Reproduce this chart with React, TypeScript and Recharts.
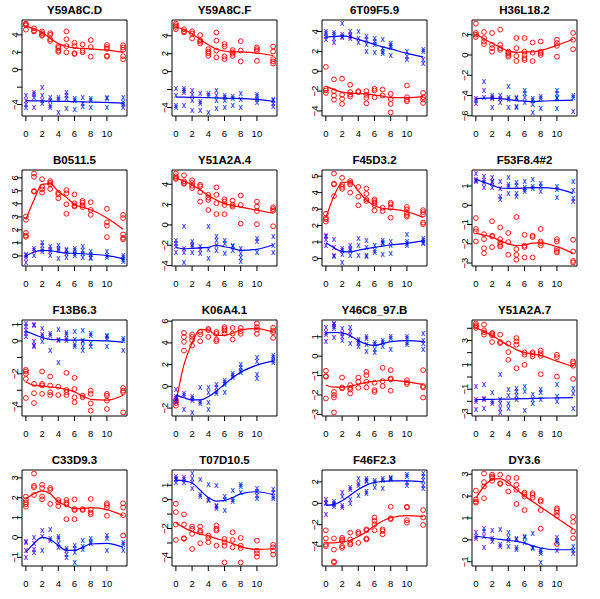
import { ComposedChart, Scatter, Line, XAxis, YAxis, ReferenceArea } from "recharts";

// time points (hours) shared by every panel
const times = [0, 1, 2, 3, 4, 5, 6, 7, 8, 10, 12];
const xTicks = [0, 2, 4, 6, 8, 10];

const titles = [
  "Y59A8C.D", "Y59A8C.F", "6T09F5.9", "H36L18.2",
  "B0511.5", "Y51A2A.4", "F45D3.2", "F53F8.4#2",
  "F13B6.3", "K06A4.1", "Y46C8_97.B", "Y51A2A.7",
  "C33D9.3", "T07D10.5", "F46F2.3", "DY3.6",
];

// y ticks per panel, and the ticks R left without a label
const yTicks = [
  [-4, -2, 0, 2, 4], [-4, -2, 0, 2, 4], [-4, -2, 0, 2, 4], [-6, -4, -2, 0, 2],
  [0, 1, 2, 3, 4, 5, 6], [-4, -2, 0, 2, 4], [0, 1, 2, 3, 4, 5], [-3, -2, -1, 0, 1],
  [-4, -3, -2, -1, 0, 1], [-2, 0, 2, 4, 6], [-3, -2, -1, 0, 1], [-3, -2, -1, 0, 1, 2, 3, 4],
  [-1, 0, 1, 2, 3], [-4, -3, -2, -1, 0, 1], [-4, -2, 0, 2], [-1, 0, 1, 2, 3],
];
const yUnlabeled = [
  [-2], [-2], [], [],
  [], [], [], [],
  [-3, -1], [], [], [-2, 0, 2, 4],
  [], [-3, -1], [], [],
];

// replicate values at each time point: red circles / blue crosses, plus fitted curves
const red1 = [[5.3, 5.2, 5.1, 4.6], [4.75, 4.5, 4.4], [4.4, 4.2, 4.0, 3.9], [4.2, 4.0, 3.5, 3.3], [2.7, 2.5, 2.2, 2.05], [4.4, 3.5, 2.7, 2.0], [3.1, 2.7, 1.9, 1.8], [2.9, 2.2, 2.0], [3.4, 2.6, 1.5], [2.85, 2.6, 2.4, 1.6, 1.5], [2.8, 2.55, 2.3, 1.55, 1.2]];
const blue1 = [[-2.97, -3.55, -4.05, -4.4], [-2.65, -2.9, -3.17, -4.4], [-2.1, -3.0, -3.55, -3.95], [-3.17, -3.55, -4.1, -4.4], [-3.25, -3.45, -4.9], [-2.6, -3.0, -3.35, -4.5], [-3.3, -3.5, -4.55], [-3.17, -3.95, -4.25], [-3.3, -3.55, -4.3], [-3.17, -3.35, -4.4], [-3.25, -3.8, -4.0, -4.4]];
const redFit1 = [5.0, 4.7, 4.3, 3.6, 3.0, 2.7, 2.5, 2.45, 2.4, 2.25, 2.0];
const blueFit1 = [-3.55, -3.57, -3.58, -3.6, -3.62, -3.64, -3.66, -3.68, -3.7, -3.75, -3.85];

const red2 = [[5.36, 5.17, 5.0, 4.73], [4.73, 4.5, 4.37], [4.5, 4.25, 3.7], [4.07, 3.5, 3.34, 3.15], [2.5, 2.24, 2.05, 1.76], [4.37, 3.45, 2.35, 1.6], [3.08, 2.8, 1.7, 1.4], [2.4, 2.15, 2.0, 1.76], [3.4, 2.35, 1.14], [2.7, 2.5, 2.3, 1.2], [2.8, 2.24, 1.4, 1.14, 0.9]];
const blue2 = [[-1.9, -2.7, -3.8, -4.07], [-1.9, -2.1, -2.35, -3.8], [-2.17, -2.53, -3.27, -4.3], [-2.42, -3.38, -3.56, -4.37], [-2.46, -2.64, -4.55], [-2.17, -2.7, -3.2, -4.1], [-2.7, -2.9, -3.27, -4.07], [-2.83, -2.97, -3.8], [-2.46, -3.08, -4.0], [-2.53, -2.83, -3.08, -3.45], [-3.08, -3.27, -3.56, -3.89]];
const redFit2 = [5.0, 4.7, 4.2, 3.6, 3.0, 2.5, 2.3, 2.2, 2.2, 2.05, 1.8];
const blueFit2 = [-2.83, -2.85, -2.87, -2.88, -2.9, -2.93, -2.96, -2.98, -3.0, -3.1, -3.3];

const red3 = [[0.44, -1.77, -1.94, -2.18], [-0.82, -2.0, -2.45, -2.86], [-0.75, -2.38, -2.79, -3.3], [-1.36, -2.1, -2.35, -2.55], [-2.0, -2.1], [-2.0, -2.38, -2.69, -3.23], [-1.77, -1.94, -2.62], [-1.84, -2.45], [-2.28, -2.79, -3.3, -4.15], [-1.43, -2.62, -2.86, -3.03], [-2.18, -2.62, -2.86, -3.2]];
const blue3 = [[4.0, 3.74, 3.44, 3.16], [3.84, 3.67, 3.23, 2.9], [4.8, 3.67, 3.5, 3.33], [4.0, 3.67, 3.44, 3.23], [3.95, 3.23, 2.9], [3.44, 3.16, 2.65, 1.97], [3.23, 3.0, 2.65, 1.87], [3.16, 2.3, 1.97, 1.73], [2.82, 2.58, 2.38, 1.53], [1.97, 1.46, 1.19], [2.14, 1.97, 1.19, 0.78]];
const redFit3 = [-1.5, -1.85, -2.1, -2.2, -2.25, -2.3, -2.4, -2.5, -2.65, -2.65, -2.55];
const blueFit3 = [3.44, 3.5, 3.55, 3.45, 3.2, 2.95, 2.7, 2.45, 2.25, 1.8, 1.45];

const red4 = [[3.1, 2.17, 2.0, 1.77], [2.27, 1.67, 1.33, 1.07], [2.17, 1.0, 0.67, 0.33], [2.5, 1.0, 0.67, 0.5], [0.33, 0.17, 0.0, -0.17], [1.67, 0.67, -0.1, -0.6], [1.67, 0.33, 0.0, -0.33, -0.5], [1.23, 0.23, -0.6], [1.33, 0.33, 0.17, 0.0], [1.5, 1.17, 0.9, -0.17], [2.17, 1.5, 0.57]];
const blue4 = [[-4.33, -4.5, -4.83], [-2.67, -3.5, -4.23], [-4.0, -4.17, -4.33, -5.23], [-4.0, -4.33, -4.73], [-3.1, -4.17, -4.43, -5.23], [-4.17, -4.33, -5.1, -5.23], [-3.57, -3.83, -4.17, -4.67], [-4.27, -4.5, -4.93, -5.67], [-4.1, -4.33, -5.33], [-3.5, -3.83, -4.17, -4.33, -5.33], [-4.0, -4.23, -5.57]];
const redFit4 = [2.1, 1.6, 1.15, 0.75, 0.4, 0.25, 0.3, 0.3, 0.45, 0.95, 1.55];
const blueFit4 = [-4.3, -4.25, -4.25, -4.3, -4.4, -4.5, -4.55, -4.6, -4.55, -4.5, -4.45];

const red5 = [[3.04, 2.78, 1.77, 1.57, 1.47], [6.33, 6.08, 4.99, 4.94], [5.9, 5.32, 5.11, 4.86], [5.75, 5.62, 5.49, 5.14], [4.86, 4.73, 4.43], [5.06, 4.81, 3.97, 3.24], [4.73, 4.05, 3.87, 3.8], [4.23, 4.1, 3.87, 3.75], [4.13, 3.54, 3.16], [3.62, 2.58, 2.33, 1.44], [3.16, 2.91, 1.65, 1.39, 1.27]];
const blue5 = [[0.13, 0.0, -0.13, -0.5], [0.56, 0.38, 0.05], [1.0, 0.76, 0.5, 0.33], [0.68, 0.5, 0.3, 0.0], [0.8, 0.56, 0.38, -0.25], [0.5, 0.38, 0.2, -0.13], [0.56, 0.38, 0.18, 0.05], [0.7, 0.38, 0.18, -0.13], [0.3, 0.13, -0.13, -0.25], [0.3, 0.05, -0.13], [0.05, -0.13, -0.3, -0.43]];
const redFit5 = [2.8, 4.3, 5.5, 5.55, 4.95, 4.5, 3.95, 3.75, 3.55, 2.92, 2.05];
const blueFit5 = [0.0, 0.3, 0.42, 0.4, 0.3, 0.22, 0.2, 0.17, 0.13, 0.03, -0.2];

const red6 = [[5.05, 4.78, 4.62, 4.52], [4.88, 4.29, 4.12, 4.05], [4.39, 4.12, 3.85, 3.62], [3.95, 3.79, 3.22, 2.29], [2.96, 2.69, 2.46, 1.46], [3.69, 2.96, 2.13, 1.06], [2.52, 2.29, 1.96, 1.06], [2.39, 1.96, 1.79], [2.89, 1.96, 0.13], [2.29, 1.79, 1.36, 0.07], [1.73, 1.56, 1.4, -0.13]];
const blue6 = [[-1.53, -1.86, -2.19, -2.69], [-0.2, -2.36, -2.69, -3.69], [-1.69, -1.96, -2.19, -2.76], [-2.19, -2.46, -2.86], [-0.13, -2.46, -3.36], [-1.13, -1.53, -2.03, -2.52], [-1.59, -1.86, -2.86], [-2.03, -2.19, -2.52], [-2.36, -2.86, -3.26, -3.59], [-1.36, -1.69, -2.69], [-1.13, -2.03, -2.69]];
const redFit6 = [4.6, 4.3, 3.95, 3.45, 2.9, 2.45, 2.1, 1.9, 1.75, 1.45, 1.15];
const blueFit6 = [-2.2, -2.35, -2.3, -2.25, -2.2, -2.0, -2.15, -2.3, -2.5, -2.4, -1.95];

const red7 = [[2.72, 2.48, 2.38, 2.24], [5.16, 4.54, 4.5, 3.79], [4.9, 4.5, 4.35, 4.23], [4.7, 4.6, 4.5, 4.0], [4.35, 3.75, 3.23], [4.25, 3.93, 3.59, 3.49], [3.59, 3.49, 3.39, 3.23, 2.92], [3.08, 2.88], [3.39, 3.29, 3.08, 2.48], [3.13, 2.98, 2.78, 2.64, 2.54], [2.94, 2.82, 2.68, 2.18, 2.08]];
const blue7 = [[1.41, 1.33, 1.17, 0.77], [1.13, 0.67, 0.2, 0.12], [0.6, 0.46, 0.26, -0.24], [0.77, 0.6, 0.46, 0.2], [1.21, 0.77, 0.16], [1.07, 0.67, 0.2, 0.1], [0.77, 0.46, 0.36], [1.07, 0.97, 0.87, 0.26], [1.0, 0.77, 0.32], [1.47, 1.0, 0.9, 0.8], [1.21, 1.07, 0.97, 0.87]];
const redFit7 = [2.48, 3.8, 4.6, 4.65, 4.1, 3.55, 3.2, 3.05, 3.0, 2.85, 2.5];
const blueFit7 = [0.95, 0.65, 0.42, 0.4, 0.5, 0.6, 0.68, 0.75, 0.82, 0.92, 1.07];

const red8 = [[-0.66, -1.23, -1.36, -1.88], [-1.5, -1.76, -2.23, -2.49], [-0.83, -1.58, -1.62, -2.17], [-1.15, -1.76, -1.93, -2.05, -2.14], [-1.44, -1.91, -2.57], [-0.61, -2.28, -2.57, -2.83], [-1.53, -2.1, -2.17, -2.71], [-1.58, -1.65, -2.71], [-1.23, -1.88, -1.97, -2.09], [-1.76, -1.88, -2.26, -2.37, -2.45], [-1.79, -2.4, -2.89, -2.97]];
const blue8 = [[1.65, 1.34, 1.3, 1.25], [1.51, 1.3, 1.17, 0.9], [1.43, 1.25, 1.17, 0.9], [1.25, 0.85, 0.47, 0.3], [1.43, 1.08, 0.99, 0.6], [1.17, 1.03, 0.6, 0.43], [1.25, 0.9, 0.82, 0.73], [1.34, 0.99, 0.85], [1.11, 0.99, 0.73], [0.99, 0.82, 0.38], [1.25, 0.78, 0.33, 0.21]];
const redFit8 = [-1.45, -1.55, -1.65, -1.85, -2.0, -2.1, -2.05, -1.97, -1.95, -2.15, -2.5];
const blueFit8 = [1.35, 1.2, 1.05, 0.9, 0.88, 0.88, 0.9, 0.92, 0.92, 0.85, 0.62];

const red9 = [[-1.76, -1.86, -2.0, -2.31, -3.47], [-2.61, -3.18, -3.78], [-1.86, -2.61, -2.71, -3.22], [-2.16, -2.71, -3.12, -3.29], [-2.78, -3.29], [-1.94, -2.98, -3.12, -3.29], [-2.24, -2.92, -3.43, -3.73], [-3.33, -3.43], [-3.02, -3.22, -3.8, -4.24], [-3.22, -3.33, -3.63, -4.14], [-2.86, -3.02, -3.12, -4.35]];
const blue9 = [[1.06, 0.86, 0.65, 0.45, 0.29], [1.0, 0.9, -0.06, -0.27, -0.37], [0.76, 0.39, 0.24, -0.06], [0.45, 0.35, -0.61], [0.69, 0.08, 0.0, -1.35], [0.51, 0.41, 0.14, 0.04], [0.55, 0.08, -0.2, -0.37], [0.65, 0.04, -0.06, -0.37, -0.57], [0.45, 0.35, -0.16, -0.37], [0.35, 0.24, 0.14, -0.33], [0.14, 0.04, -0.57]];
const redFit9 = [-2.5, -2.7, -2.75, -2.8, -2.85, -2.95, -3.1, -3.35, -3.55, -3.6, -3.3];
const blueFit9 = [0.6, 0.4, 0.2, 0.1, 0.07, 0.06, 0.05, 0.05, 0.03, 0.0, -0.08];

const red10 = [[-1.23, -1.38, -1.54, -1.78], [4.92, 4.55, 4.09, 3.29], [4.77, 4.55, 4.25, 3.75], [5.0, 4.77, 4.15], [5.29, 5.17, 4.55], [5.0, 4.83, 4.31, 4.15], [5.45, 5.29, 5.14, 4.86], [5.38, 4.86, 4.31], [5.38, 5.08, 4.83], [5.78, 5.45, 5.23, 4.83], [5.38, 5.14, 4.98, 4.46]];
const blue10 = [[-0.31, -0.98, -1.17, -1.38], [-0.71, -0.86, -2.15], [-0.92, -1.17, -1.32, -2.4], [-0.09, -1.38, -1.6], [-0.15, -0.62, -1.48, -2.15], [0.15, -0.15, -0.46, -0.71], [0.55, 0.37, 0.15, -0.62], [1.17, 0.98, 0.77], [2.0, 1.69, 1.45, 1.23], [2.62, 2.31, 1.08, 0.68], [2.83, 2.62, 2.37, 2.22]];
const redFit10 = [-1.5, 2.0, 4.0, 5.25, 5.2, 4.7, 4.7, 4.9, 5.2, 5.32, 5.0];
const blueFit10 = [-0.8, -1.05, -1.25, -1.25, -0.95, -0.45, 0.2, 0.8, 1.3, 1.95, 2.35];

const red11 = [[-0.75, -1.03, -1.06, -2.18], [-1.84, -2.0, -2.13, -2.9], [-1.1, -1.61, -1.66], [-1.49, -1.63, -1.72, -1.92], [-1.1, -1.32, -1.63], [-0.81, -0.98, -1.32, -1.61], [-1.37, -1.75, -1.84], [-0.6, -1.29, -1.54], [-0.72, -1.15, -1.2, -1.78], [-1.24, -1.36, -1.44], [-0.72, -1.54, -1.61, -2.13]];
const blue11 = [[1.48, 1.2, 1.11, 0.74], [1.68, 1.6, 1.51, 1.42, 0.96], [1.42, 1.17, 1.0, 0.82], [1.48, 1.25, 1.03, 0.62], [0.86, 0.74, 0.65, 0.51], [1.0, 0.91, 0.57, 0.22], [0.69, 0.57, 0.34, 0.17], [0.82, 0.69, 0.48], [1.0, 0.91, 0.31], [1.0, 0.91, 0.7, 0.57], [1.17, 0.82, 0.65, 0.34]];
const redFit11 = [-1.5, -1.6, -1.6, -1.55, -1.45, -1.35, -1.3, -1.25, -1.25, -1.32, -1.45];
const blueFit11 = [1.2, 1.22, 1.2, 1.05, 0.8, 0.62, 0.55, 0.65, 0.75, 0.8, 0.75];

const red12 = [[4.39, 4.25, 4.17, 4.03], [4.31, 3.84, 3.67, 3.48], [3.62, 3.53, 3.42, 2.87], [3.48, 2.87, 2.79], [2.74, 2.05, 1.41], [3.2, 2.93, 2.65, 0.72], [2.02, 1.83, 1.0], [2.02, 1.88, 1.69], [2.18, 1.96, 1.74, 0.23], [1.83, 1.63, 0.04], [1.28, 1.14, 0.92, -0.16]];
const blue12 = [[-0.79, -1.84, -2.03, -2.72], [-0.65, -1.75, -1.89, -2.64], [-1.26, -2.03, -2.22], [0.17, -1.89, -2.17, -2.58, -2.91], [-1.01, -1.56, -2.17, -2.58], [-0.93, -1.2, -1.56, -1.89], [-0.79, -1.2, -2.8], [-1.48, -1.84, -2.22], [-1.07, -1.29, -1.89], [-0.65, -1.62, -2.03], [-0.93, -1.34, -2.58]];
const redFit12 = [4.05, 3.75, 3.4, 3.0, 2.6, 2.25, 2.0, 1.9, 1.75, 1.3, 0.85];
const blueFit12 = [-1.85, -1.84, -1.83, -1.82, -1.81, -1.8, -1.78, -1.76, -1.74, -1.72, -1.7];

const red13 = [[2.06, 1.89, 1.77, 1.67, 1.55], [3.22, 2.6, 2.52, 2.14], [2.66, 2.49, 2.06, 1.92], [2.49, 2.4, 1.69], [1.89, 1.77, 1.58], [1.89, 1.75, 1.67, 0.92], [1.92, 1.43, 1.38, 0.92], [1.43, 1.38], [1.94, 1.41, 1.26, 1.16], [1.72, 1.63, 1.51, 1.09], [1.72, 1.51, 1.12, 0.1]];
const blue13 = [[-0.19, -0.29, -0.66, -1.0], [-0.02, -0.32, -0.61, -0.75], [0.32, 0.05, -0.66], [0.41, -0.07, -0.15], [0.05, -0.07, -0.32, -0.54], [-0.58, -0.66, -0.89, -1.04], [-0.41, -0.58, -0.75, -1.26], [-0.15, -0.49, -0.63], [-0.07, -0.19, -0.32], [0.1, -0.07, -0.66], [-0.24, -0.36, -0.66]];
const redFit13 = [1.95, 2.2, 2.35, 2.2, 1.8, 1.6, 1.45, 1.45, 1.5, 1.4, 1.1];
const blueFit13 = [-0.75, -0.3, 0.0, -0.1, -0.4, -0.65, -0.65, -0.5, -0.33, -0.3, -0.5];

const red14 = [[-0.28, -0.86, -1.72, -2.79], [-1.02, -1.72, -2.67, -2.72], [-1.86, -2.02, -2.37, -3.42], [-1.86, -2.14, -2.26, -3.02], [-2.49, -2.65, -2.95], [-1.79, -2.02, -2.14, -3.19], [-2.72, -2.95, -3.19, -4.35], [-2.26, -2.79, -3.3], [-2.65, -3.19, -3.35, -4.35], [-2.84, -3.53, -3.72, -3.95], [-3.12, -3.3, -3.53, -3.81]];
const blue14 = [[1.58, 1.47, 1.35, 1.19], [1.53, 1.35, 1.19], [1.81, 1.47, 1.19, 0.77], [1.4, 0.37, 0.19], [1.05, 0.0, -0.09], [1.0, -0.4, -0.51, -0.63], [0.19, 0.0, -0.74], [0.65, 0.0, -0.16], [1.07, 0.88, 0.47], [0.77, 0.53, 0.3, 0.07], [0.7, 0.47, 0.19, 0.07]];
const redFit14 = [-1.6, -1.95, -2.2, -2.4, -2.5, -2.7, -2.85, -3.05, -3.25, -3.45, -3.4];
const blueFit14 = [1.35, 1.3, 1.15, 0.65, 0.15, -0.1, -0.05, 0.15, 0.4, 0.55, 0.35];

const red15 = [[-2.52, -3.28, -3.85, -4.0], [-3.28, -4.32, -5.43, -5.52], [-3.22, -3.38, -3.53, -4.0, -4.16], [-2.74, -3.38, -3.69, -3.85], [-2.68, -2.84, -3.69], [-2.43, -2.52, -3.28, -3.38], [-1.32, -1.64, -1.96, -2.52], [-2.43, -2.59, -2.9], [-0.32, -1.39, -1.48], [-0.32, -0.38, -1.58, -1.8], [-0.63, -1.32, -2.02]];
const blue15 = [[0.32, 0.1, -0.06, -1.1], [0.19, 0.0, -0.13, -0.28], [0.95, 0.63, -0.22, -0.44], [1.45, 1.29, 0.32, -0.06], [2.3, 1.83, 1.67, 0.73], [2.3, 2.15, 1.99, 1.04, 0.88], [2.15, 1.89, 1.42], [2.3, 2.15, 1.36], [2.4, 2.3, 2.21], [2.68, 2.46, 1.89, 1.67], [2.78, 2.46, 2.15, 1.67, 1.36]];
const redFit15 = [-3.7, -3.7, -3.6, -3.45, -3.1, -2.65, -2.1, -1.65, -1.35, -1.15, -1.25];
const blueFit15 = [-0.2, -0.1, 0.25, 0.75, 1.3, 1.7, 1.95, 2.05, 2.1, 2.1, 2.0];

const red16 = [[2.25, 1.85, 1.75, 1.7], [3.03, 2.64, 2.44, 1.9], [2.98, 2.9, 2.83, 2.7], [2.98, 2.59, 2.55], [2.83, 2.59, 2.21], [2.83, 2.52, 2.29, 1.64], [2.16, 2.08, 1.98, 1.36], [2.13, 2.05, 1.93], [1.82, 1.75, 1.36, 0.51], [1.44, 1.36, 1.24, 1.1, -0.19], [1.05, 0.82, 0.39, 0.08]];
const blue16 = [[0.31, 0.15, 0.05], [0.51, 0.36, 0.15, -0.34], [0.43, 0.05, -0.06], [0.46, -0.22, -0.31], [0.31, 0.12, -0.03, -0.31], [0.05, 0.0, -0.34, -0.46], [0.15, 0.09, -0.11], [0.28, -0.34, -0.42], [-0.46, -0.54, -0.65, -1.03], [0.09, -0.03, -0.15, -0.49], [-0.31, -0.49, -0.65]];
const redFit16 = [1.9, 2.45, 2.75, 2.8, 2.6, 2.3, 2.0, 1.75, 1.5, 1.0, 0.5];
const blueFit16 = [0.17, 0.12, 0.07, 0.02, -0.02, -0.07, -0.15, -0.27, -0.37, -0.45, -0.45];

const reds = [red1, red2, red3, red4, red5, red6, red7, red8, red9, red10, red11, red12, red13, red14, red15, red16];
const blues = [blue1, blue2, blue3, blue4, blue5, blue6, blue7, blue8, blue9, blue10, blue11, blue12, blue13, blue14, blue15, blue16];
const redFits = [redFit1, redFit2, redFit3, redFit4, redFit5, redFit6, redFit7, redFit8, redFit9, redFit10, redFit11, redFit12, redFit13, redFit14, redFit15, redFit16];
const blueFits = [blueFit1, blueFit2, blueFit3, blueFit4, blueFit5, blueFit6, blueFit7, blueFit8, blueFit9, blueFit10, blueFit11, blueFit12, blueFit13, blueFit14, blueFit15, blueFit16];

const FONT = '"Liberation Sans", Arial, Helvetica, sans-serif';
const RED = "#ff0000";
const BLUE = "#0000ff";
const X_DOMAIN = [-0.48, 12.48];

const toPoints = (groups: number[][]) =>
  groups.flatMap((g, i) => g.map((y) => ({ x: times[i], y })));
const toFit = (vals: number[]) => vals.map((y, i) => ({ x: times[i], y }));

const RedCircle = (p: any) => (
  <circle cx={p.cx} cy={p.cy} r={2.4} fill="none" stroke={RED} strokeWidth={0.9} />
);

// R's pch="x" is the letter x drawn as text
const BlueX = (p: any) => (
  <text x={p.cx} y={p.cy + 2.3} textAnchor="middle" fontSize={8.5} fill={BLUE} fontFamily={FONT}>
    x
  </text>
);

const XTick = (p: any) => (
  <text x={p.x} y={p.y + 13.5} textAnchor="middle" fontSize={9.5} fill="#000" fontFamily={FONT}>
    {p.payload.value}
  </text>
);

const makeYTick = (hidden: number[]) => (p: any) => {
  const v = p.payload.value;
  if (hidden.includes(v)) return <g />;
  const bx = p.x + 3;
  return (
    <text
      x={bx}
      y={p.y}
      transform={`rotate(-90 ${bx} ${p.y})`}
      textAnchor="middle"
      fontSize={9.5}
      fill="#000"
      fontFamily={FONT}
    >
      {v < 0 ? `\u2212${Math.abs(v)}` : v}
    </text>
  );
};

function Panel({ i }: { i: number }) {
  const red = toPoints(reds[i]);
  const blue = toPoints(blues[i]);
  const ys = [...red, ...blue].map((d) => d.y);
  const lo = Math.min(...ys);
  const hi = Math.max(...ys);
  const pad = (hi - lo) * 0.04;
  const yDomain = [lo - pad, hi + pad];
  const col = i % 4;
  const row = Math.floor(i / 4);

  return (
    <div style={{ position: "absolute", left: col * 150, top: row * 150, width: 150, height: 150 }}>
      <div
        style={{
          position: "absolute",
          left: 22,
          width: 105,
          top: 3,
          textAlign: "center",
          fontFamily: FONT,
          fontWeight: "bold",
          fontSize: 11.5,
          lineHeight: "14px",
          whiteSpace: "nowrap",
        }}
      >
        {titles[i]}
      </div>
      <ComposedChart width={150} height={150} margin={{ top: 20, right: 23, bottom: 0, left: 0 }}>
        <XAxis
          type="number"
          dataKey="x"
          domain={X_DOMAIN}
          ticks={xTicks}
          interval={0}
          height={34}
          tickSize={5}
          tickMargin={2}
          axisLine={false}
          tickLine={{ stroke: "#000" }}
          tick={XTick}
          allowDataOverflow
        />
        <YAxis
          type="number"
          dataKey="y"
          domain={yDomain}
          ticks={yTicks[i]}
          interval={0}
          width={22}
          tickSize={5}
          tickMargin={2}
          axisLine={false}
          tickLine={{ stroke: "#000" }}
          tick={makeYTick(yUnlabeled[i])}
          allowDataOverflow
        />
        <ReferenceArea
          x1={X_DOMAIN[0]}
          x2={X_DOMAIN[1]}
          y1={yDomain[0]}
          y2={yDomain[1]}
          fill="none"
          stroke="#000"
          strokeWidth={1}
          ifOverflow="visible"
        />
        <Scatter data={red} shape={RedCircle} isAnimationActive={false} />
        <Scatter data={blue} shape={BlueX} isAnimationActive={false} />
        <Line
          data={toFit(redFits[i])}
          dataKey="y"
          type="monotone"
          stroke={RED}
          strokeWidth={1.2}
          dot={false}
          activeDot={false}
          isAnimationActive={false}
        />
        <Line
          data={toFit(blueFits[i])}
          dataKey="y"
          type="monotone"
          stroke={BLUE}
          strokeWidth={1.2}
          dot={false}
          activeDot={false}
          isAnimationActive={false}
        />
      </ComposedChart>
    </div>
  );
}

export default function App() {
  return (
    <div style={{ position: "absolute", left: 0, top: 0, width: 600, height: 599, background: "#fff" }}>
      {titles.map((_, i) => (
        <Panel key={i} i={i} />
      ))}
    </div>
  );
}
